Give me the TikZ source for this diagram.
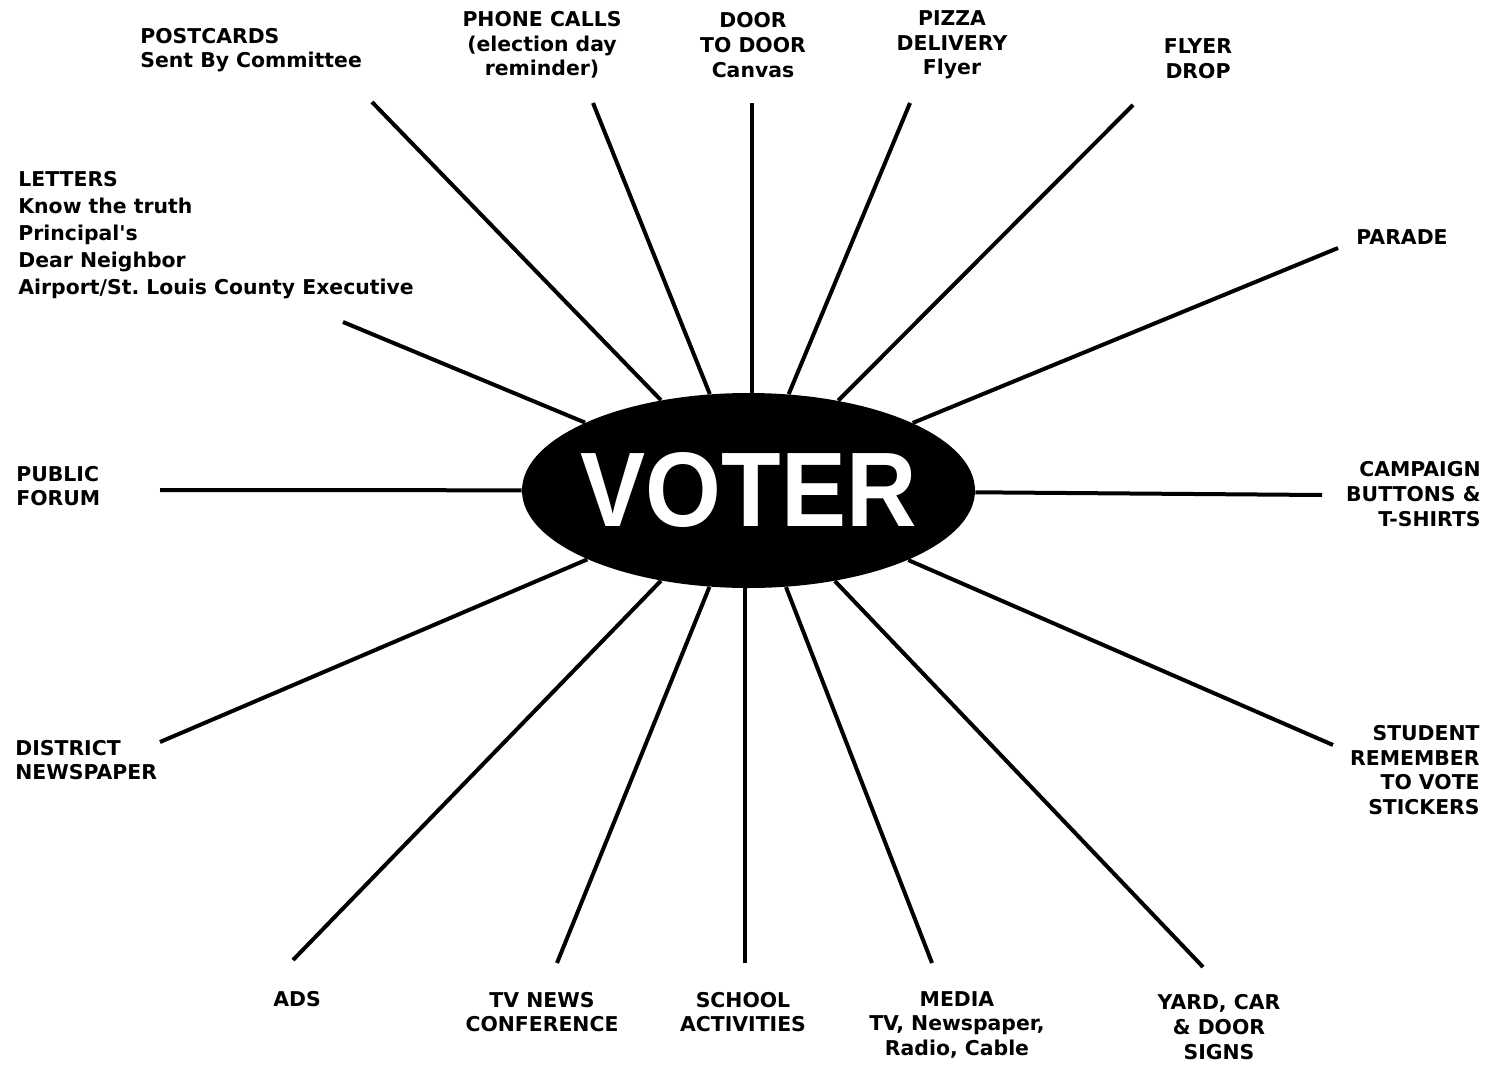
\documentclass[tikz,border=0pt]{standalone}
\usepackage{fontspec}
\setmainfont{Liberation Sans}
\newfontfamily\labfont{DejaVu Sans}
\usetikzlibrary{shapes.geometric}
\tikzset{
  hub/.style={ellipse, fill=black, draw=none, minimum width=226.5pt, minimum height=97.5pt, inner sep=0pt},
  hubtext/.style={text=white, font=\fontsize{53}{53}\selectfont\bfseries, inner sep=0pt},
  lab/.style={font=\labfont\fontsize{10.2}{12.3}\selectfont\bfseries, inner sep=0pt, align=center},
  labl/.style={lab, align=left, anchor=west},
  labr/.style={lab, align=right, anchor=east},
  spoke/.style={line width=2pt, black}
}
\begin{document}
\begin{tikzpicture}[x=0.5pt,y=-0.5pt]
\useasboundingbox (0,0) rectangle (1495,1066);
% hub
\node[hub] (voter) at (748.5,490.5) {};
% labels
\node[labl] (postcards) at (140,50) {POSTCARDS\\Sent By Committee};
\node[lab] (phone) at (542,45) {PHONE CALLS\\(election day\\reminder)};
\node[lab] (door) at (753,45) {DOOR\\TO DOOR\\Canvas};
\node[lab] (pizza) at (952,45) {PIZZA\\DELIVERY\\Flyer};
\node[lab] (flyer) at (1198,59) {FLYER\\DROP};
\node[labl, font=\labfont\fontsize{10.2}{13.5}\selectfont\bfseries] (letters) at (18,235) {LETTERS\\Know the truth\\Principal's\\Dear Neighbor\\Airport/St.\ Louis County Executive};
\node[lab] (parade) at (1402,237) {PARADE};
\node[labl] (forum) at (16,486) {PUBLIC\\FORUM};
\node[labr] (buttons) at (1481,494) {CAMPAIGN\\BUTTONS \&\\T-SHIRTS};
\node[labl] (district) at (15,760) {DISTRICT\\NEWSPAPER};
\node[labr] (student) at (1480,770) {STUDENT\\REMEMBER\\TO VOTE\\STICKERS};
\node[lab] (ads) at (297,999) {ADS};
\node[lab] (tvnews) at (542,1012) {TV NEWS\\CONFERENCE};
\node[lab] (school) at (743,1012) {SCHOOL\\ACTIVITIES};
\node[lab] (media) at (957,1025) {MEDIA\\TV, Newspaper,\\Radio, Cable};
\node[lab] (yard) at (1219,1027) {YARD, CAR\\\& DOOR\\SIGNS};
% spoke ends
\coordinate (ePost) at (372,102);
\coordinate (ePhone) at (593,103);
\coordinate (eDoor) at (752,103);
\coordinate (ePizza) at (910,103);
\coordinate (eFlyer) at (1133,105);
\coordinate (eParade) at (1338,248);
\coordinate (eLetters) at (343,322);
\coordinate (eForum) at (160,490);
\coordinate (eButtons) at (1322,495);
\coordinate (eStudent) at (1333,745);
\coordinate (eDistrict) at (160,742);
\coordinate (eAds) at (293,960);
\coordinate (eTv) at (557,963);
\coordinate (eSchool) at (745,963);
\coordinate (eMedia) at (932,963);
\coordinate (eYard) at (1203,967);
\foreach \e in {ePost,ePhone,ePizza,eFlyer,eParade,eLetters,eForum,eButtons,eStudent,eDistrict,eAds,eTv,eMedia,eYard}
  \draw[spoke] (voter) -- (\e);
\draw[spoke] (voter.north -| eDoor) -- (eDoor);
\draw[spoke] (voter.south -| eSchool) -- (eSchool);
\node[hubtext] (votertext) at (voter) {\scalebox{0.92}[1]{VOTER}};
\end{tikzpicture}
\end{document}
